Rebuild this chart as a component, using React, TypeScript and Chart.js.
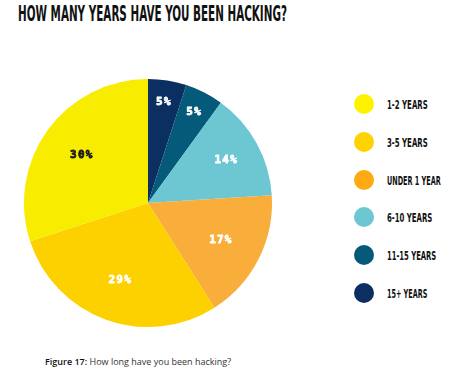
import React, { useEffect, useLayoutEffect, useRef } from "react";
import { Chart, registerables } from "chart.js";

Chart.register(...registerables);

// Legend order (top to bottom)
const categories = ["1-2 YEARS", "3-5 YEARS", "UNDER 1 YEAR", "6-10 YEARS", "11-15 YEARS", "15+ YEARS"];
const values = [30, 29, 17, 14, 5, 5];
const sliceColors = ["#f8ec00", "#fdd100", "#f9ad3b", "#6cc7d3", "#045a78", "#0b2f60"];
const legendColors = ["#fff200", "#ffd300", "#ffaa10", "#6cc7d3", "#045a78", "#0b2f60"];
const labelColors = ["#1a1a1a", "#ffffff", "#ffffff", "#ffffff", "#ffffff", "#ffffff"];

const titleText = "HOW MANY YEARS HAVE YOU BEEN HACKING?";
const captionBold = "Figure 17:";
const captionText = " How long have you been hacking?";

const condensedFont = '"DejaVu Sans Condensed", "Liberation Sans Narrow", "Liberation Sans", sans-serif';

function FitText(props: { text: string; width: number; style: React.CSSProperties }) {
  const ref = useRef<HTMLSpanElement | null>(null);
  useLayoutEffect(() => {
    const el = ref.current;
    if (!el) return;
    el.style.transform = "none";
    const w = el.offsetWidth;
    if (w > 0) el.style.transform = `scaleX(${props.width / w})`;
  }, [props.text, props.width]);
  return (
    <span
      ref={ref}
      style={{ display: "inline-block", whiteSpace: "nowrap", transformOrigin: "left center", ...props.style }}
    >
      {props.text}
    </span>
  );
}

const labelPlugin = {
  id: "sliceLabels",
  afterDatasetsDraw(chart: any) {
    const meta = chart.getDatasetMeta(0);
    const ds = chart.data.datasets[0];
    const ctx = chart.ctx;
    ctx.save();
    ctx.font = 'bold 11px "DejaVu Sans Mono", monospace';
    try {
      (ctx as any).letterSpacing = "1.2px";
    } catch (e) {}
    ctx.textAlign = "center";
    ctx.textBaseline = "middle";
    ctx.lineWidth = 0.8;
    ctx.lineJoin = "round";
    meta.data.forEach((arc: any, i: number) => {
      const p = arc.getProps(["x", "y", "startAngle", "endAngle", "outerRadius"], true);
      const mid = (p.startAngle + p.endAngle) / 2;
      const v = ds.data[i];
      const frac = v < 10 ? 0.82 : v < 16 ? 0.72 : 0.66;
      const r = p.outerRadius * frac;
      const x = p.x + Math.cos(mid) * r;
      const y = p.y + Math.sin(mid) * r;
      ctx.fillStyle = ds.labelColors[i];
      ctx.strokeStyle = ds.labelColors[i];
      ctx.strokeText(v + "%", x, y);
      ctx.fillText(v + "%", x, y);
    });
    ctx.restore();
  },
};

export default function App() {
  const canvasRef = useRef<HTMLCanvasElement | null>(null);

  useEffect(() => {
    const canvas = canvasRef.current;
    if (!canvas) return;
    const order = [...values.keys()].reverse();
    const chart = new Chart(canvas, {
      type: "pie",
      data: {
        labels: order.map((i) => categories[i]),
        datasets: [
          {
            data: order.map((i) => values[i]),
            backgroundColor: order.map((i) => sliceColors[i]),
            borderWidth: 0,
            labelColors: order.map((i) => labelColors[i]),
          } as any,
        ],
      },
      options: {
        animation: false,
        responsive: false,
        maintainAspectRatio: false,
        layout: { padding: 6 },
        plugins: {
          legend: { display: false },
          tooltip: { enabled: false },
          title: { display: false },
        },
      },
      plugins: [labelPlugin],
    });
    return () => chart.destroy();
  }, []);

  return (
    <div
      style={{
        position: "absolute",
        left: 0,
        top: 0,
        width: 460,
        height: 383,
        background: "#ffffff",
        overflow: "hidden",
      }}
    >
      <div style={{ position: "absolute", left: 18, top: 1, lineHeight: "26px" }}>
        <FitText
          text={titleText}
          width={269}
          style={{ fontFamily: condensedFont, fontWeight: 700, fontSize: 22, color: "#111111" }}
        />
      </div>
      <canvas
        ref={canvasRef}
        width={260}
        height={260}
        style={{ position: "absolute", left: 18, top: 73, width: 260, height: 260 }}
      />
      {categories.map((c, i) => (
        <div
          key={c}
          style={{
            position: "absolute",
            left: 354,
            top: 104 + i * 37.8 - 10,
            height: 20,
            display: "flex",
            alignItems: "center",
          }}
        >
          <div
            style={{
              width: 20,
              height: 20,
              borderRadius: "50%",
              background: legendColors[i],
            }}
          />
          <div style={{ position: "absolute", left: 33, top: 3, lineHeight: "14px" }}>
            <FitText
              text={c}
              width={c.length * 4.5}
              style={{ fontFamily: condensedFont, fontWeight: 700, fontSize: 11.5, color: "#111111" }}
            />
          </div>
        </div>
      ))}
      <div
        style={{
          position: "absolute",
          left: 45,
          top: 355,
          fontFamily: '"Open Sans", "Noto Sans", sans-serif',
          fontSize: 9,
          color: "#333333",
          whiteSpace: "nowrap",
        }}
      >
        <span style={{ fontWeight: 600, color: "#111111" }}>{captionBold}</span>
        <span>{captionText}</span>
      </div>
    </div>
  );
}
